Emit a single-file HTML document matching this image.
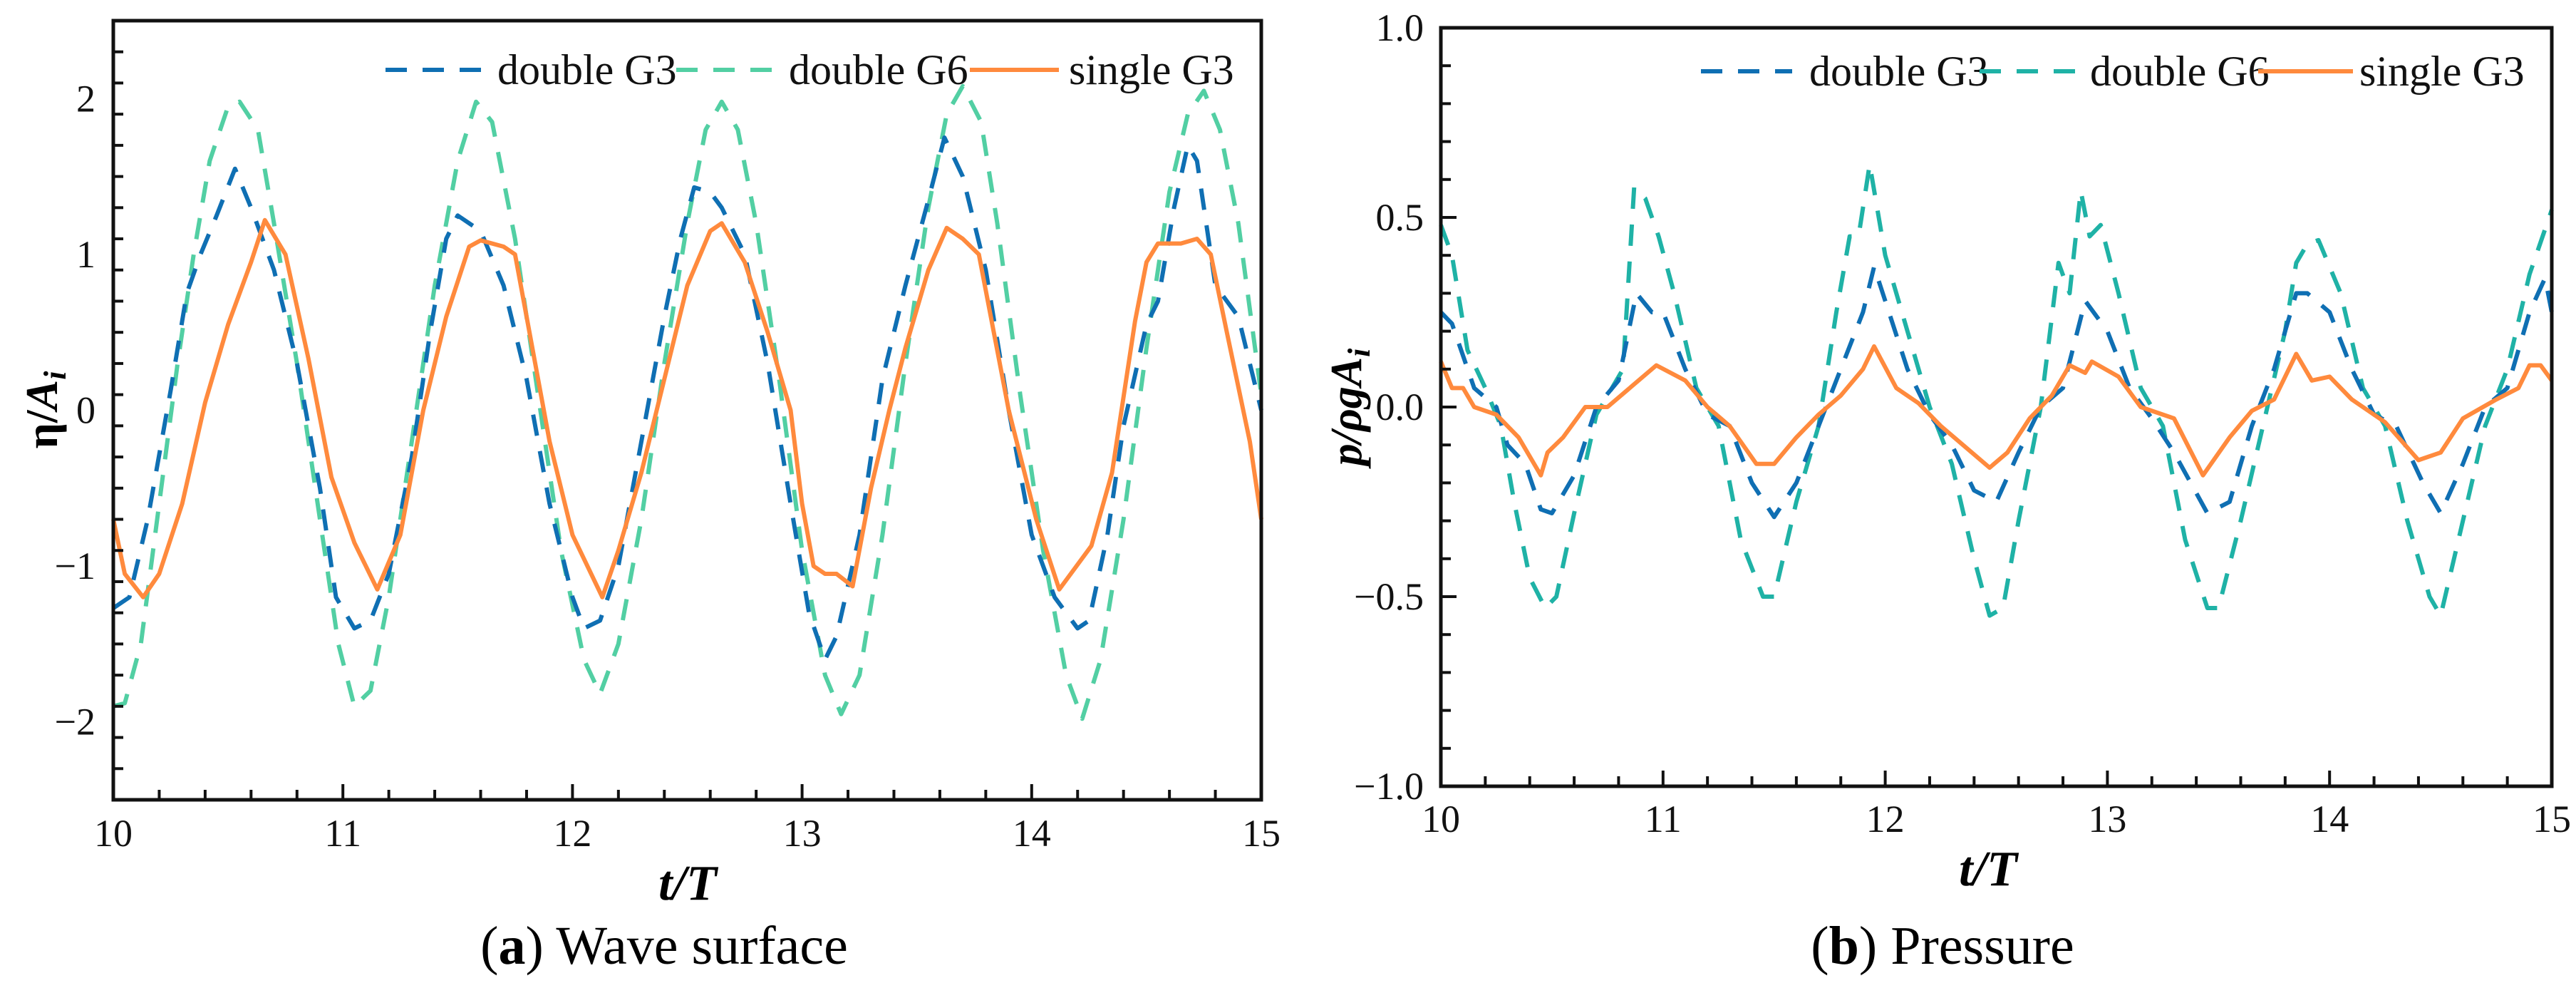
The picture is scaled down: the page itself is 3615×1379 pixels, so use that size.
<!DOCTYPE html>
<html><head><meta charset="utf-8">
<style>
html,body{margin:0;padding:0;background:#fff;}
svg{display:block;font-family:"Liberation Serif",serif;}
</style></head>
<body>
<svg id="fig" width="3615" height="1379" viewBox="0 0 3615 1379"></svg>
<script>
// ---- Panel (a) wave surface data ----
const tA_single=[10,10.05,10.13,10.2,10.3,10.4,10.5,10.6,10.66,10.75,10.85,10.95,11.05,11.15,11.25,11.35,11.45,11.55,11.6,11.7,11.75,11.8,11.9,12.0,12.13,12.2,12.3,12.4,12.5,12.6,12.65,12.75,12.85,12.95,13.0,13.05,13.1,13.15,13.22,13.3,13.38,13.45,13.55,13.63,13.7,13.77,13.9,14.02,14.12,14.26,14.35,14.45,14.5,14.55,14.65,14.72,14.78,14.85,14.95,15.0];
const yA_single=[-0.7,-1.05,-1.2,-1.05,-0.6,0.05,0.55,0.95,1.22,1.0,0.33,-0.43,-0.85,-1.15,-0.8,0.0,0.6,1.05,1.09,1.05,1.0,0.6,-0.2,-0.8,-1.2,-0.9,-0.4,0.2,0.8,1.15,1.2,0.95,0.5,0.0,-0.6,-1.0,-1.05,-1.05,-1.13,-0.5,0.0,0.4,0.9,1.17,1.1,1.0,0.0,-0.7,-1.15,-0.87,-0.4,0.57,0.95,1.07,1.07,1.1,1.0,0.5,-0.2,-0.7];
const tA_g3=[10,10.07,10.15,10.25,10.32,10.38,10.45,10.53,10.6,10.7,10.8,10.9,10.97,11.05,11.12,11.2,11.3,11.38,11.45,11.5,11.6,11.7,11.8,11.9,12.0,12.05,12.12,12.2,12.3,12.4,12.47,12.53,12.6,12.65,12.75,12.85,12.95,13.03,13.1,13.15,13.25,13.35,13.45,13.55,13.62,13.7,13.8,13.9,14.0,14.1,14.2,14.25,14.33,14.4,14.5,14.55,14.62,14.68,14.72,14.8,14.9,15.0];
const yA_g3=[-1.27,-1.2,-0.7,0.13,0.75,1.0,1.25,1.55,1.3,0.9,0.3,-0.5,-1.2,-1.4,-1.35,-1.05,-0.3,0.5,1.1,1.25,1.15,0.8,0.2,-0.6,-1.2,-1.4,-1.35,-1.0,-0.2,0.6,1.1,1.43,1.4,1.3,1.0,0.3,-0.6,-1.3,-1.6,-1.45,-0.8,0.2,0.8,1.35,1.75,1.5,0.9,0.0,-0.8,-1.2,-1.4,-1.35,-0.8,-0.1,0.55,0.7,1.3,1.7,1.6,0.8,0.6,0.0];
const tA_g6=[10,10.05,10.12,10.2,10.28,10.35,10.42,10.5,10.55,10.63,10.7,10.8,10.9,10.98,11.05,11.12,11.2,11.3,11.4,11.5,11.58,11.65,11.75,11.85,11.95,12.05,12.12,12.2,12.3,12.4,12.5,12.58,12.65,12.72,12.8,12.9,13.0,13.1,13.17,13.25,13.35,13.45,13.55,13.63,13.7,13.78,13.85,13.95,14.05,14.15,14.22,14.3,14.4,14.5,14.6,14.68,14.75,14.82,14.9,15.0];
const yA_g6=[-1.9,-1.88,-1.5,-0.6,0.3,1.0,1.6,1.95,1.98,1.8,1.2,0.3,-0.7,-1.5,-1.9,-1.8,-1.2,-0.2,0.8,1.6,1.98,1.85,1.1,0.1,-0.9,-1.6,-1.82,-1.5,-0.7,0.3,1.2,1.8,1.98,1.8,1.2,0.2,-0.9,-1.7,-1.95,-1.7,-0.8,0.3,1.3,1.9,2.08,1.85,1.2,0.1,-0.9,-1.7,-1.98,-1.6,-0.7,0.4,1.4,1.9,2.05,1.8,1.2,0.1];
// ---- Panel (b) pressure data ----
const tB_single=[10,10.05,10.1,10.15,10.25,10.35,10.45,10.48,10.55,10.65,10.75,10.85,10.97,11.1,11.2,11.3,11.42,11.5,11.6,11.7,11.8,11.9,11.95,12.05,12.15,12.25,12.35,12.47,12.55,12.65,12.75,12.83,12.9,12.93,13.05,13.15,13.3,13.43,13.55,13.65,13.75,13.85,13.92,14.0,14.1,14.25,14.4,14.5,14.6,14.75,14.85,14.9,14.95,15.0];
const yB_single=[0.12,0.05,0.05,0.0,-0.02,-0.08,-0.18,-0.12,-0.08,0.0,0.0,0.05,0.11,0.07,0.0,-0.05,-0.15,-0.15,-0.08,-0.02,0.03,0.1,0.16,0.05,0.01,-0.05,-0.1,-0.16,-0.12,-0.03,0.03,0.11,0.09,0.12,0.08,0.0,-0.03,-0.18,-0.08,-0.01,0.02,0.14,0.07,0.08,0.02,-0.04,-0.14,-0.12,-0.03,0.02,0.05,0.11,0.11,0.07];
const tB_g3=[10,10.05,10.15,10.25,10.3,10.38,10.45,10.5,10.6,10.7,10.8,10.88,10.95,11.0,11.1,11.2,11.3,11.4,11.5,11.6,11.7,11.8,11.9,11.95,12.0,12.1,12.2,12.3,12.4,12.5,12.6,12.7,12.8,12.9,13.0,13.1,13.2,13.3,13.45,13.55,13.65,13.75,13.85,13.9,14.0,14.1,14.2,14.3,14.42,14.5,14.6,14.7,14.8,14.9,14.97,15.0];
const yB_g3=[0.25,0.22,0.05,0.0,-0.1,-0.15,-0.27,-0.28,-0.18,0.0,0.07,0.3,0.25,0.25,0.1,-0.02,-0.05,-0.2,-0.29,-0.2,-0.05,0.1,0.25,0.37,0.28,0.1,-0.02,-0.1,-0.22,-0.25,-0.12,0.0,0.05,0.28,0.2,0.05,-0.03,-0.12,-0.28,-0.25,-0.05,0.1,0.3,0.3,0.25,0.1,-0.02,-0.05,-0.2,-0.28,-0.15,0.0,0.05,0.25,0.34,0.25];
const tB_g6=[10,10.05,10.12,10.2,10.27,10.33,10.4,10.47,10.52,10.6,10.7,10.77,10.82,10.87,10.92,10.98,11.05,11.15,11.25,11.35,11.45,11.5,11.6,11.7,11.78,11.84,11.88,11.93,12.0,12.1,12.2,12.3,12.4,12.47,12.53,12.6,12.7,12.78,12.83,12.88,12.92,12.97,13.05,13.15,13.25,13.35,13.45,13.5,13.6,13.7,13.8,13.85,13.9,13.95,14.05,14.15,14.25,14.35,14.45,14.5,14.6,14.7,14.8,14.9,15.0];
const yB_g6=[0.48,0.4,0.15,0.05,-0.05,-0.25,-0.45,-0.53,-0.5,-0.28,-0.02,0.05,0.1,0.58,0.55,0.45,0.3,0.05,-0.05,-0.35,-0.5,-0.5,-0.25,-0.05,0.25,0.45,0.45,0.64,0.4,0.2,0.0,-0.15,-0.4,-0.55,-0.53,-0.3,0.0,0.38,0.3,0.57,0.45,0.48,0.3,0.05,-0.05,-0.35,-0.53,-0.53,-0.3,-0.05,0.2,0.38,0.43,0.44,0.3,0.05,-0.05,-0.3,-0.5,-0.55,-0.3,-0.05,0.1,0.35,0.52];
const xTicks=[10,11,12,13,14,15];
const yTicksA=[-2,-1,0,1,2];
const yTickLabelsA=["\u22122","\u22121","0","1","2"];
const yTicksB=[-1,-0.5,0,0.5,1];
const yTickLabelsB=["\u22121.0","\u22120.5","0.0","0.5","1.0"];

const NS="http://www.w3.org/2000/svg";
const svg=document.getElementById('fig');
function mk(tag,attrs,parent){const e=document.createElementNS(NS,tag);for(const k in attrs)e.setAttribute(k,attrs[k]);(parent||svg).appendChild(e);return e;}

function panel(cfg){
  const g=mk('g',{});
  
  
  const X=v=>cfg.x0+(v-10)/5*(cfg.x1-cfg.x0);
  const Y=v=>cfg.yb+(v-cfg.ymin)/(cfg.ymax-cfg.ymin)*(cfg.yt-cfg.yb);
  cfg.series.forEach(s=>{
    let d='';
    s.t.forEach((t,i)=>{d+=(i?'L':'M')+X(t).toFixed(1)+' '+Y(s.v[i]).toFixed(1);});
    const p=mk('path',{d:d,fill:'none',stroke:s.color,'stroke-width':6,'stroke-linejoin':'round'},g);
    if(s.dash)p.setAttribute('stroke-dasharray','30 22');
    
    
  });
  const fr=mk('rect',{x:cfg.x0,y:cfg.yt,width:cfg.x1-cfg.x0,height:cfg.yb-cfg.yt,fill:'none',stroke:'#111','stroke-width':5},g);
  
  
  for(let v=10;v<=15.001;v+=0.2){
    const major=Math.abs(v-Math.round(v))<1e-6;
    const l=major?22:14;
    mk('line',{x1:X(v),x2:X(v),y1:cfg.yb,y2:cfg.yb-l,stroke:'#111','stroke-width':4},g);
  }
  xTicks.forEach(v=>{
    const t=mk('text',{x:X(v),y:cfg.xLabelY,'font-size':54,'text-anchor':'middle',fill:'#111'},g);
    t.textContent=String(v);
    
    
  });
  const n=Math.round((cfg.ymax-cfg.ymin)/cfg.minor);
  for(let i=0;i<=n;i++){
    const v=cfg.ymin+i*cfg.minor;
    const major=Math.abs(v/cfg.major-Math.round(v/cfg.major))<1e-6;
    const l=major?22:14;
    mk('line',{x1:cfg.x0,x2:cfg.x0+l,y1:Y(v),y2:Y(v),stroke:'#111','stroke-width':4},g);
  }
  cfg.yTicks.forEach((v,i)=>{
    const t=mk('text',{x:cfg.yLabelX,y:Y(v)+18,'font-size':54,'text-anchor':'end',fill:'#111'},g);
    t.textContent=cfg.yLabels[i];
    
    
  });
  cfg.legend.forEach(L=>{
    const ln=mk('line',{x1:L.lx1,x2:L.lx2,y1:cfg.legY,y2:cfg.legY,stroke:L.color,'stroke-width':6},g);
    if(L.dash)ln.setAttribute('stroke-dasharray','30 22');
    
    
    const t=mk('text',{x:L.tx,y:cfg.legY+20,'font-size':60,fill:'#111'},g);
    t.textContent=L.label;
    
    
  });
  return g;
}

panel({name:'wave-surface-chart',x0:159,x1:1770,yt:29,yb:1122,ymin:-2.5,ymax:2.5,minor:0.2,major:1,
  yTicks:yTicksA,yLabels:yTickLabelsA,yLabelX:134,xLabelY:1187,legY:98,
  series:[{key:'series-double-g6',t:tA_g6,v:yA_g6,color:'#52cfa3',dash:true},
          {key:'series-double-g3',t:tA_g3,v:yA_g3,color:'#0f6fb3',dash:true},
          {key:'series-single-g3',t:tA_single,v:yA_single,color:'#ff8a3d',dash:false}],
  legend:[{lx1:541,lx2:675,tx:698,label:'double G3',color:'#0f6fb3',dash:true},
          {lx1:949,lx2:1088,tx:1107,label:'double G6',color:'#52cfa3',dash:true},
          {lx1:1361,lx2:1486,tx:1500,label:'single G3',color:'#ff8a3d',dash:false}]
});
panel({name:'pressure-chart',x0:2022,x1:3581,yt:39,yb:1103,ymin:-1,ymax:1,minor:0.1,major:0.5,
  yTicks:yTicksB,yLabels:yTickLabelsB,yLabelX:1998,xLabelY:1167,legY:100,
  series:[{key:'series-double-g6',t:tB_g6,v:yB_g6,color:'#1fb2a6',dash:true},
          {key:'series-double-g3',t:tB_g3,v:yB_g3,color:'#0f6fb3',dash:true},
          {key:'series-single-g3',t:tB_single,v:yB_single,color:'#ff8a3d',dash:false}],
  legend:[{lx1:2387,lx2:2515,tx:2539,label:'double G3',color:'#0f6fb3',dash:true},
          {lx1:2778,lx2:2912,tx:2933,label:'double G6',color:'#1fb2a6',dash:true},
          {lx1:3169,lx2:3302,tx:3311,label:'single G3',color:'#ff8a3d',dash:false}]
});
</script>
<svg width="3615" height="1379" style="position:absolute;left:0;top:0;font-family:'Liberation Serif',serif;">
  <text x="965" y="1262" font-size="70" font-weight="bold" font-style="italic" text-anchor="middle">t/T</text>
  <text x="2790" y="1242" font-size="70" font-weight="bold" font-style="italic" text-anchor="middle">t/T</text>
  <text transform="translate(80,575) rotate(-90)" font-size="64" font-weight="bold" text-anchor="middle">η/<tspan font-style="italic">A</tspan><tspan font-style="italic" font-size="44" dy="12">i</tspan></text>
  <text transform="translate(1910,571) rotate(-90)" font-size="62" font-weight="bold" font-style="italic" text-anchor="middle">p/ρgA<tspan font-size="44" dy="12">i</tspan></text>
  <text x="932" y="1352" font-size="76" text-anchor="middle">(<tspan font-weight="bold">a</tspan>) Wave surface</text>
  <text x="2726" y="1352" font-size="76" text-anchor="middle">(<tspan font-weight="bold">b</tspan>) Pressure</text>
</svg>
</body></html>
